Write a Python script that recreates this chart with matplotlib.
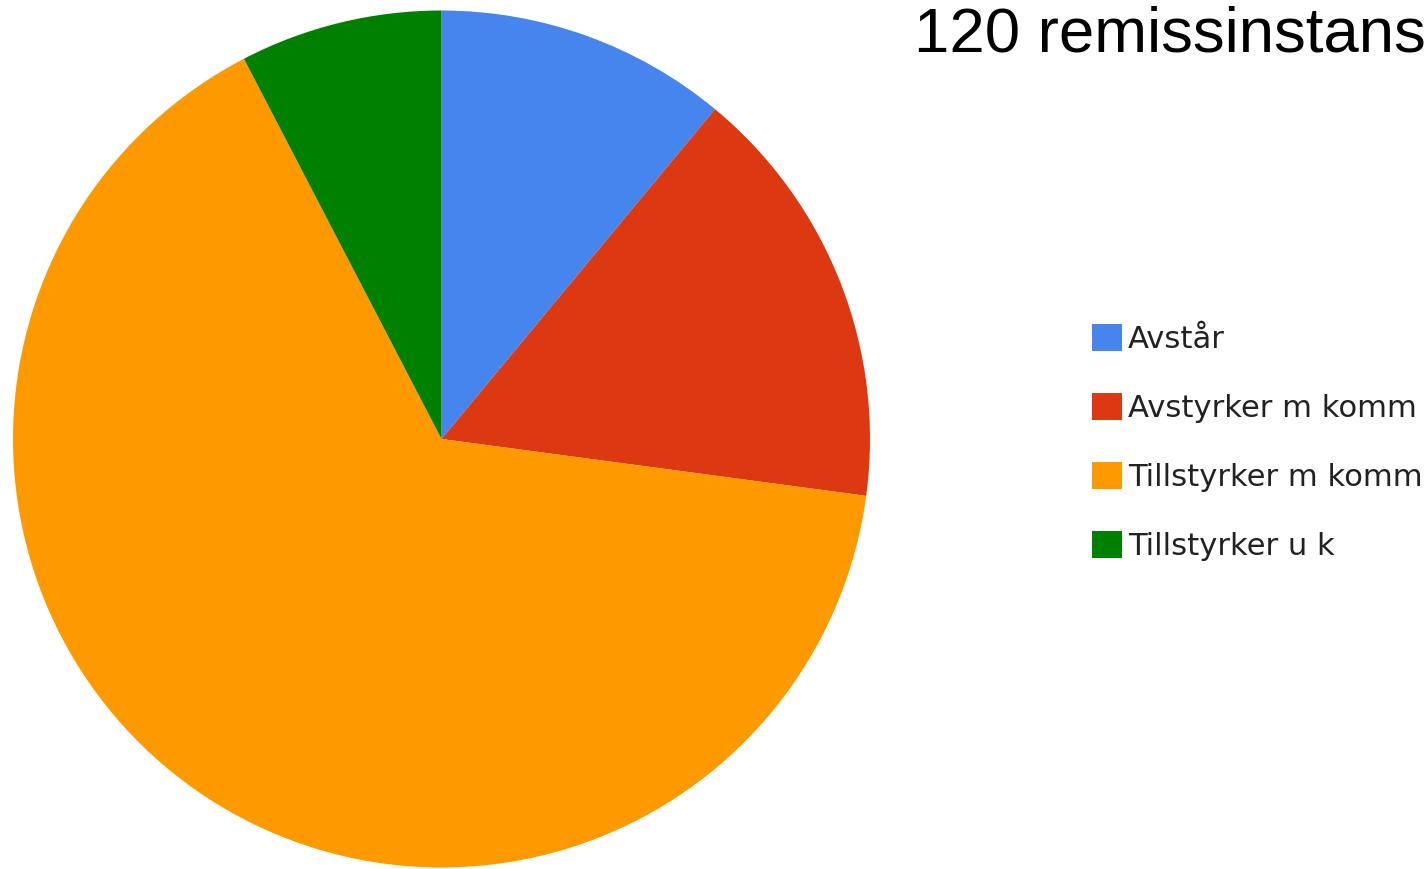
import matplotlib.pyplot as plt

labels = ['Avstår', 'Avstyrker m komm', 'Tillstyrker m komm', 'Tillstyrker u k']
counts = [13, 19, 77, 9]
colors = ['#4684ee', '#dc3912', '#ff9900', '#008000']
title = '120 remissinstans'

W, H = 1427, 869
fig = plt.figure(figsize=(W / 100, H / 100), dpi=100)

# pie axes: centre (441.5, 439) px, radius 428.5 px
cx, cy, r = 441.5, 439, 428.5
ax = fig.add_axes([(cx - r) / W, (H - cy - r) / H, 2 * r / W, 2 * r / H])
wedges, _ = ax.pie(counts, colors=colors, startangle=90, counterclock=False,
                   radius=1, wedgeprops={'linewidth': 0})
ax.set_xlim(-1, 1)
ax.set_ylim(-1, 1)
ax.set_aspect('equal')
ax.axis('off')

fig.text(914 / W, 1 - 52 / H, title, fontsize=45.7, family='Liberation Sans',
         ha='left', va='baseline', color='black')

leg = fig.legend(wedges, labels, loc='upper left',
                 bbox_to_anchor=(1092 / W, 1 - 324 / H), frameon=False,
                 handlelength=0.98, handleheight=0.98,
                 handletextpad=0.2, labelspacing=1.27, borderaxespad=0,
                 borderpad=0, prop={'family': 'DejaVu Sans', 'size': 22.1})
for t in leg.get_texts():
    t.set_color('#222222')

fig.savefig('out.png', dpi=100)
